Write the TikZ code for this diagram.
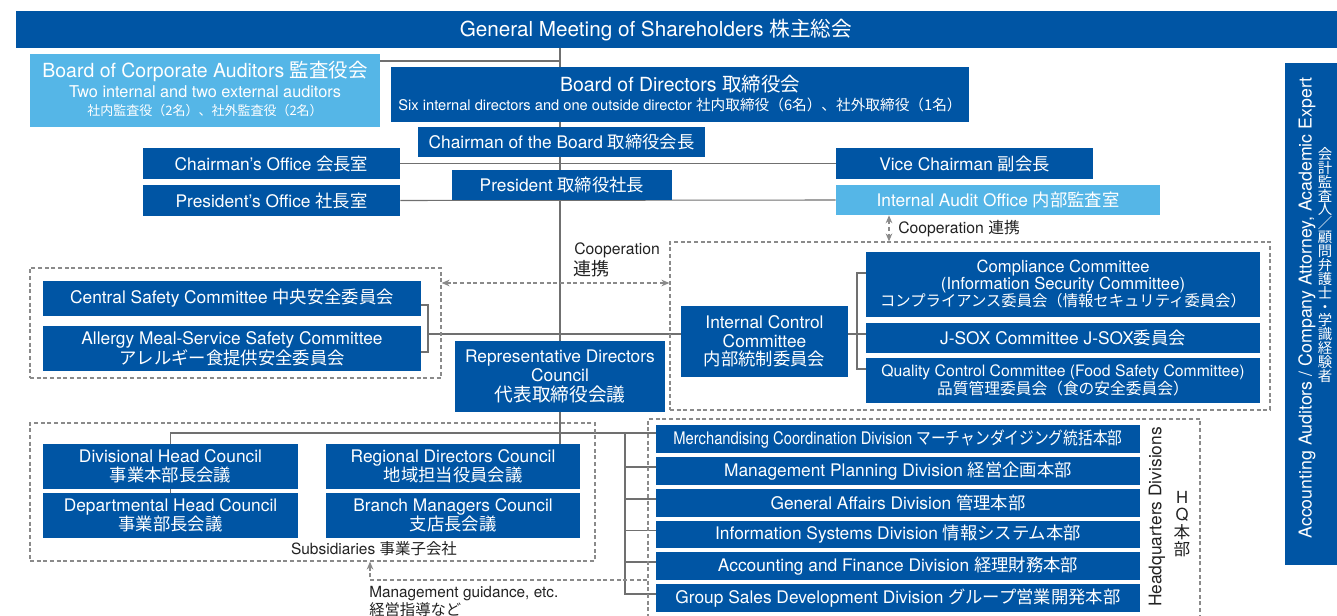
\documentclass[tikz,border=0pt]{standalone}
\usepackage{fontspec}
\setmainfont{TeX Gyre Heros}
\newfontfamily\jpfont{Noto Sans CJK JP}
\usetikzlibrary{fit,calc,arrows.meta}
\newcommand\myfs[2]{\fontsize{#1}{#2}\selectfont}
\newcommand\jj[1]{{\jpfont #1}}
\newcommand\bx[6]{\node[#1, fit={#2}] (#3) {}; \node[wt, font=#4] (#3t) at (#3.center) {#6};}
\definecolor{dblue}{HTML}{0055A4}
\definecolor{lblue}{HTML}{55B6E7}
\definecolor{lgray}{HTML}{707070}
\definecolor{dgray}{HTML}{8A8A8A}
\definecolor{txt}{HTML}{222222}
\pgfdeclarelayer{bg}
\pgfsetlayers{bg,main}
\tikzset{
  dbox/.style={fill=dblue, draw=none, inner sep=0pt},
  lbox/.style={dbox, fill=lblue},
  wt/.style={text=white, inner sep=0pt, align=center},
  lbl/.style={text=txt, inner sep=0pt, align=center},
  dshbox/.style={draw=dgray, dash pattern=on 3pt off 2pt, line width=0.9pt, inner sep=0pt},
  dsh/.style={draw=dgray, dash pattern=on 3pt off 2pt, line width=0.9pt},
  conn/.style={draw=lgray, line width=0.8pt},
  tip/.style={-{Stealth[length=6pt,width=5pt]}},
  tips/.style={{Stealth[length=6pt,width=5pt]}-{Stealth[length=6pt,width=5pt]}}
}
\begin{document}
\begin{tikzpicture}[x=0.75pt,y=-0.75pt]
\useasboundingbox (0,0) rectangle (1337,616);
\clip (0,0) rectangle (1337,616);
% coordinates
\coordinate (c61) at (0,61);
\coordinate (sbx) at (428,334);
\coordinate (rbx) at (857,334);
\coordinate (hy) at (0,433);
\coordinate (hbx) at (625,433);
\coordinate (mgc) at (370,580);
\coordinate (cpy) at (0,283);
\coordinate (cpx) at (889,0);

% banner
\node[dbox, fit={(16,11)(1337,48)}] (gm) {};
\node[wt, font=\myfs{15.5}{18}] (gmt) at (656,30) {General Meeting of Shareholders \jj{株主総会}};

% auditors
\node[lbox, fit={(30,54)(380,127)}] (aud) {};
\node[wt, font=\myfs{14.6}{17}] (aud1) at (205,71) {Board of Corporate Auditors \jj{監査役会}};
\node[wt, font=\myfs{12.2}{14}] (aud2) at (205,92) {Two internal and two external auditors};
\node[wt, font=\myfs{9.75}{12}] (aud3) at (205,111) {\jj{社内監査役（2名）、社外監査役（2名）}};

% board of directors
\node[dbox, fit={(391,67)(969,122)}] (bod) {};
\node[wt, font=\myfs{14.6}{17}] (bod1) at (680,84) {Board of Directors \jj{取締役会}};
\node[wt, font=\myfs{11}{13}] (bod2) at (680,105) {Six internal directors and one outside director \jj{社内取締役（6名）、社外取締役（1名）}};

\bx{dbox}{(418,127)(705,157)}{cob}{\myfs{13}{14}}{}{Chairman of the Board \jj{取締役会長}}
\bx{dbox}{(143,148)(400,179)}{co}{\myfs{13}{14}}{}{Chairman’s Office \jj{会長室}}
\bx{dbox}{(836,148)(1093,179)}{vc}{\myfs{13}{14}}{}{Vice Chairman \jj{副会長}}
\bx{dbox}{(143,185)(400,216)}{po}{\myfs{13}{14}}{}{President’s Office \jj{社長室}}
\bx{dbox}{(452,170)(672,200)}{pr}{\myfs{13}{14}}{}{President \jj{取締役社長}}
\bx{lbox}{(836,185)(1160,215)}{ia}{\myfs{13}{14}}{}{Internal Audit Office \jj{内部監査室}}

% dashed groups
\node[dshbox, fit={(30,268)(441,378)}] (saf) {};
\node[dshbox, fit={(670,242)(1270,410)}] (icb) {};
\node[dshbox, fit={(30,423)(595,561)}] (sub) {};
\node[dshbox, fit={(648,419)(1200,640)}] (hq) {};

% safety
\bx{dbox}{(43,281)(421,316)}{cs}{\myfs{13}{14}}{}{Central Safety Committee \jj{中央安全委員会}}
\bx{dbox}{(43,326)(421,371)}{al}{\myfs{13}{13.5}}{}{Allergy Meal-Service Safety Committee\\\jj{アレルギー食提供安全委員会}}

% internal control
\bx{dbox}{(681,306)(848,377)}{icc}{\myfs{13}{14}}{}{Internal Control\\Committee\\\jj{内部統制委員会}}
\bx{dbox}{(866,252)(1260,317)}{cc}{\myfs{12.5}{12.75}}{}{Compliance Committee\\(Information Security Committee)\\\jj{\myfs{11.5}{12.75}コンプライアンス委員会（情報セキュリティ委員会）}}
\bx{dbox}{(866,323)(1260,353)}{js}{\myfs{13}{14}}{}{J-SOX Committee J-SOX\jj{委員会}}
\bx{dbox}{(866,358)(1260,403)}{qc}{\myfs{11.8}{13.5}}{}{Quality Control Committee (Food Safety Committee)\\\jj{品質管理委員会（食の安全委員会）}}

% representative directors
\bx{dbox}{(455,341)(665,412)}{rep}{\myfs{13}{14.5}}{}{Representative Directors\\Council\\\jj{\myfs{14}{14.5}代表取締役会議}}

% councils
\bx{dbox}{(43,444)(298,489)}{dhc}{\myfs{13}{14}}{}{Divisional Head Council\\\jj{事業本部長会議}}
\bx{dbox}{(43,493)(298,538)}{dpc}{\myfs{13}{14}}{}{Departmental Head Council\\\jj{事業部長会議}}
\bx{dbox}{(326,444)(580,489)}{rdc}{\myfs{13}{14}}{}{Regional Directors Council\\\jj{地域担当役員会議}}
\bx{dbox}{(326,493)(580,538)}{bmc}{\myfs{13}{14}}{}{Branch Managers Council\\\jj{支店長会議}}
\node[lbl, font=\myfs{11.6}{13}] (subl) at (374,549) {Subsidiaries \jj{事業子会社}};
\node[lbl, font=\myfs{11.5}{11}, align=left, anchor=north west] (mgl) at (369,586) {Management guidance, etc.\\\jj{経営指導など}};

% HQ divisions
\bx{dbox}{(656,425)(1140,453)}{mc}{\myfs{13}{14}}{}{\scalebox{0.85}[1]{Merchandising Coordination Division \jj{マーチャンダイジング統括本部}}}
\bx{dbox}{(656,457)(1140,485)}{mp}{\myfs{13}{14}}{}{Management Planning Division \jj{経営企画本部}}
\bx{dbox}{(656,489)(1140,517)}{ga}{\myfs{13}{14}}{}{General Affairs Division \jj{管理本部}}
\bx{dbox}{(656,521)(1140,548)}{is}{\myfs{13}{14}}{}{Information Systems Division \jj{情報システム本部}}
\bx{dbox}{(656,552)(1140,580)}{af}{\myfs{13}{14}}{}{Accounting and Finance Division \jj{経理財務本部}}
\bx{dbox}{(656,584)(1140,612)}{gs}{\myfs{13}{14}}{}{Group Sales Development Division \jj{グループ営業開発本部}}
\node[lbl, rotate=90, font=\myfs{13}{14}] (hqd) at (1157,517) {Headquarters Divisions};
\node[lbl, font=\myfs{12.5}{13}] (hqj) at (1182,524) {H\\Q\\\jj{本}\\\jj{部}};

% external
\node[dbox, fit={(1285,63)(1337,565)}] (ext) {};
\node[wt, rotate=90, font=\myfs{13.3}{15}] (ext1) at (1307,308) {Accounting Auditors / Company Attorney, Academic Expert};
\node[wt, font=\jpfont\myfs{10.8}{10.4}] (ext2) at (1325,265) {会\\計\\監\\査\\人\\／\\顧\\問\\弁\\護\\士\\・\\学\\識\\経\\験\\者};

% cooperation labels
\node[lbl, font=\myfs{11.8}{13}, anchor=west] (cop1) at (574,250) {Cooperation};
\node[lbl, font=\jpfont\myfs{13.5}{14}, anchor=west] (cop2) at (573,269) {連携};
\node[lbl, font=\myfs{11.8}{13}, anchor=west] (cop3) at (898,229) {Cooperation \jj{連携}};

\begin{pgfonlayer}{bg}
\draw[conn] (gm.south -| rep) -- (rdc.north -| rep);
\draw[conn] (aud.east |- c61) -- (rep |- c61);
\draw[conn] (co.east) -- (vc.west);
\draw[conn] (po.east) -- (ia.west);
\draw[conn] ($(cs.east)+(0,6.5)$) -| (sbx) |- ($(al.east)+(0,3.5)$);
\draw[conn] (sbx) -- (icc.west |- sbx);
\draw[conn] (icc.east |- rbx) -- (rbx);
\draw[conn] ($(cc.west)+(0,-11.5)$) -| (rbx) |- ($(qc.west)+(0,-11.5)$);
\draw[conn] (rbx) -- (js.west |- rbx);
\draw[conn] (dhc.north) |- (mc.west |- hy);
\draw[conn] (dhc) -- (dpc);
\draw[conn] (hbx) |- ($(gs.west)+(0,-4)$);
\foreach \b in {mp,ga,is,af}{
  \draw[conn] ($(hbx |- \b.west)+(0,-4)$) -- ($(\b.west)+(0,-4)$);
}
\end{pgfonlayer}

\draw[dsh, tip] (hq.west |- mgc) -| (sub.south -| mgc);
\draw[dsh, tips] (saf.east |- cpy) -- (icb.west |- cpy);
\draw[dsh, tips] (ia.south -| cpx) -- (icb.north -| cpx);
\end{tikzpicture}
\end{document}
